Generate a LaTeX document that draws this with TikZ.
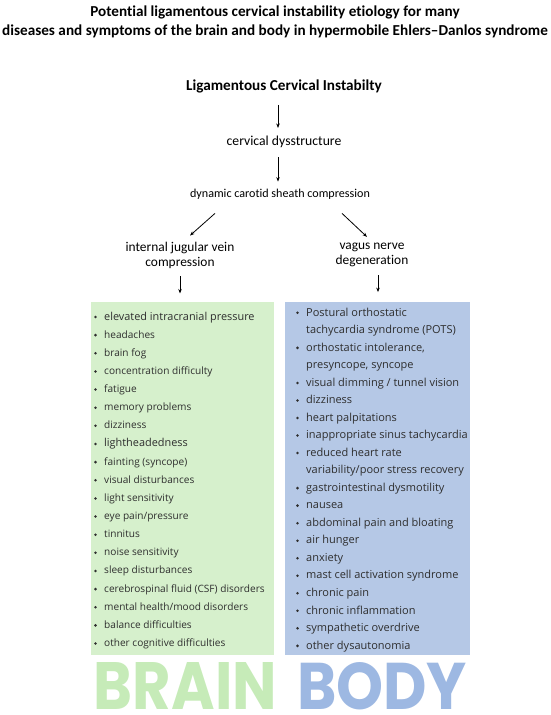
\documentclass[tikz,border=0pt]{standalone}
\usepackage{fontspec}
\setmainfont[RawFeature=-liga]{Carlito}
\newfontfamily\listfont{Open Sans}
\newfontfamily\bigfont{Poppins}
\usetikzlibrary{arrows.meta,calc}
\definecolor{gfill}{HTML}{D6F0CC}
\definecolor{bfill}{HTML}{B5C8E6}
\definecolor{gword}{HTML}{C6EBB8}
\definecolor{bword}{HTML}{9DB8E2}
\definecolor{ltext}{HTML}{2E2E2E}
\tikzset{
  arr/.style={line width=0.8pt,-{Stealth[length=4.5pt,width=3.5pt]}},
  flow/.style={inner sep=0pt,align=center},
  item/.style={anchor=base west,inner sep=0pt,text=ltext},
  litem/.style={item,font=\listfont\fontsize{10.1}{12}\selectfont},
  litembig/.style={item,font=\listfont\fontsize{10.9}{12}\selectfont},
  ritem/.style={item,font=\listfont\fontsize{11}{12}\selectfont},
  bul/.style={circle,fill=ltext,inner sep=0pt,minimum size=2.8pt},
  big/.style={inner sep=0pt,font=\bigfont\bfseries\fontsize{60}{60}\selectfont},
}
\begin{document}
\begin{tikzpicture}[x=1pt,y=-1pt]
\useasboundingbox (0,0) rectangle (550,715);
\node[flow,font=\bfseries\fontsize{15.2}{18}\selectfont] (t1) at (275,12) {Potential ligamentous cervical instability etiology for many};
\node[flow,font=\bfseries\fontsize{15.2}{18}\selectfont] (t2) at (275,31) {diseases and symptoms of the brain and body in hypermobile Ehlers--Danlos syndrome};
\node[flow,font=\bfseries\fontsize{15.2}{18}\selectfont] (lci) at (284,86) {Ligamentous Cervical Instabilty};
\node[flow,font=\fontsize{13.7}{16}\selectfont] (cd) at (284,142) {cervical dysstructure};
\node[flow,font=\fontsize{12.1}{14}\selectfont] (dc) at (280,194) {dynamic carotid sheath compression};
\node[flow,font=\fontsize{13.4}{15}\selectfont] (ij) at (180,255) {internal jugular vein\\compression};
\node[flow,font=\fontsize{13.4}{15}\selectfont] (vn) at (372,255) {vagus nerve\\degeneration};
\fill[gfill] (91,302) rectangle (274,655) node[pos=0.5,inner sep=0pt] (gb) {};
\fill[bfill] (285,302) rectangle (470,655) node[pos=0.5,inner sep=0pt] (bb) {};
\draw[arr] ([xshift=-6pt,yshift=-12pt]lci.south) -- ([xshift=-6pt,yshift=8pt]cd.north);
\draw[arr] ([xshift=-6pt,yshift=-9pt]cd.south) -- ([xshift=-2pt,yshift=7pt]dc.north);
\draw[arr] ([xshift=-65pt,yshift=-14pt]dc.south) -- ([xshift=10pt,yshift=6pt]ij.north);
\draw[arr] ([xshift=62pt,yshift=-14pt]dc.south) -- ([xshift=-5pt,yshift=6pt]vn.north);
\draw[arr] ([yshift=-8pt]ij.south) -- ([yshift=-25pt]ij.south);
\draw[arr] ([xshift=6pt,yshift=-8pt]vn.south) -- ([xshift=6pt,yshift=-25pt]vn.south);
% left list
\foreach \tx/\st [count=\i] in {
  {elevated intracranial pressure}/litembig, {headaches}/litem, {brain fog}/litem,
  {concentration difficulty}/litem, {fatigue}/litem, {memory problems}/litem,
  {dizziness}/litem, {lightheadedness}/litembig, {fainting (syncope)}/litem,
  {visual disturbances}/litem, {light sensitivity}/litem, {eye pain/pressure}/litem,
  {tinnitus}/litem, {noise sensitivity}/litem, {sleep disturbances}/litem,
  {cerebrospinal fluid (CSF) disorders}/litem, {mental health/mood disorders}/litem,
  {balance difficulties}/litem, {other cognitive difficulties}/litem}{
  \pgfmathsetmacro{\yy}{320+18.14*(\i-1)}
  \node[bul] (lb\i) at (95.5,\yy-3) {};
  \node[\st] (lt\i) at (104,\yy) {\tx};
}
% right list
\foreach \tx/\b [count=\i] in {
  {Postural orthostatic}/1, {tachycardia syndrome (POTS)}/0,
  {orthostatic intolerance,}/1, {presyncope, syncope}/0,
  {visual dimming / tunnel vision}/1, {dizziness}/1,
  {heart palpitations}/1, {inappropriate sinus tachycardia}/1,
  {reduced heart rate}/1, {variability/poor stress recovery}/0,
  {gastrointestinal dysmotility}/1, {nausea}/1,
  {abdominal pain and bloating}/1, {air hunger}/1, {anxiety}/1,
  {mast cell activation syndrome}/1, {chronic pain}/1,
  {chronic inflammation}/1, {sympathetic overdrive}/1,
  {other dysautonomia}/1}{
  \pgfmathsetmacro{\yy}{316+17.53*(\i-1)}
  \ifnum\b=1 \node[bul] (rb\i) at (297.5,\yy-3.2) {};\fi
  \node[ritem] (rt\i) at (306,\yy) {\tx};
}
\node[big,text=gword] (brain) at (185.5,686) {\resizebox{183pt}{47pt}{BRAIN}};
\node[big,text=bword] (body) at (382,686) {\resizebox{170pt}{47pt}{BODY}};
\end{tikzpicture}
\end{document}
